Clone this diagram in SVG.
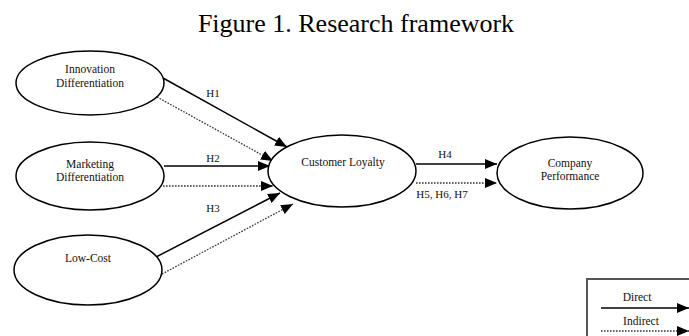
<svg xmlns="http://www.w3.org/2000/svg" width="689" height="336" viewBox="0 0 689 336">
<style>
.node{fill:#fff;stroke:#000;stroke-width:1.5}
.t{font-family:"Liberation Serif","Times New Roman",serif;font-size:11.5px;fill:#111;text-anchor:middle}
.lbl{font-family:"Liberation Serif","Times New Roman",serif;font-size:11px;fill:#111;text-anchor:middle}
.solid{stroke:#000;stroke-width:1.5;fill:none}
.dot{stroke:#333;stroke-width:1.3;stroke-dasharray:1.6 1.4;fill:none}
</style>
<defs>
<marker id="ah" viewBox="0 0 12 10" refX="12" refY="5" markerWidth="12" markerHeight="10" markerUnits="userSpaceOnUse" orient="auto">
<path d="M0,0 L12,5 L0,10 z" fill="#000"/>
</marker>
</defs>
<rect width="689" height="336" fill="#fff"/>
<text x="356" y="32" font-family="Liberation Serif,'Times New Roman',serif" font-size="26" text-anchor="middle" fill="#000">Figure 1. Research framework</text>

<g id="connectors">
<line class="solid" x1="163" y1="78" x2="287" y2="147" marker-end="url(#ah)"/>
<line class="dot" x1="157" y1="97" x2="273" y2="161" marker-end="url(#ah)"/>
<line class="solid" x1="164" y1="166" x2="270" y2="166" marker-end="url(#ah)"/>
<line class="dot" x1="163" y1="186" x2="273" y2="186" marker-end="url(#ah)"/>
<line class="solid" x1="156" y1="257" x2="280" y2="193" marker-end="url(#ah)"/>
<line class="dot" x1="162" y1="274" x2="293" y2="204" marker-end="url(#ah)"/>
<line class="solid" x1="416" y1="164" x2="497" y2="164" marker-end="url(#ah)"/>
<line class="dot" x1="416" y1="183" x2="497" y2="183" marker-end="url(#ah)"/>
<text class="lbl" x="213" y="97">H1</text>
<text class="lbl" x="213" y="162">H2</text>
<text class="lbl" x="213" y="212">H3</text>
<text class="lbl" x="445" y="158">H4</text>
<text class="lbl" x="442" y="198">H5, H6, H7</text>
</g>

<g id="innovation">
<ellipse class="node" cx="90" cy="83" rx="74" ry="32"/>
<text class="t" x="90" y="73">Innovation</text>
<text class="t" x="90" y="87">Differentiation</text>
</g>
<g id="marketing">
<ellipse class="node" cx="90" cy="176" rx="74" ry="34"/>
<text class="t" x="90" y="168">Marketing</text>
<text class="t" x="90" y="181">Differentiation</text>
</g>
<g id="lowcost">
<ellipse class="node" cx="88" cy="270" rx="74" ry="35"/>
<text class="t" x="88" y="262">Low-Cost</text>
</g>
<g id="loyalty">
<ellipse class="node" cx="342" cy="171" rx="74" ry="36"/>
<text class="t" x="343" y="166">Customer Loyalty</text>
</g>
<g id="performance">
<ellipse class="node" cx="570" cy="173" rx="73" ry="36"/>
<text class="t" x="570" y="167">Company</text>
<text class="t" x="570" y="180">Performance</text>
</g>

<g id="legend">
<rect x="587" y="279" width="130" height="80" fill="#fff" stroke="#555" stroke-width="2"/>
<text class="t" x="637" y="301" font-size="12">Direct</text>
<line class="solid" x1="601" y1="308" x2="689" y2="308" marker-end="url(#ah)"/>
<text class="t" x="641" y="325" font-size="12">Indirect</text>
<line class="dot" x1="601" y1="331" x2="689" y2="331" marker-end="url(#ah)"/>
</g>
</svg>
